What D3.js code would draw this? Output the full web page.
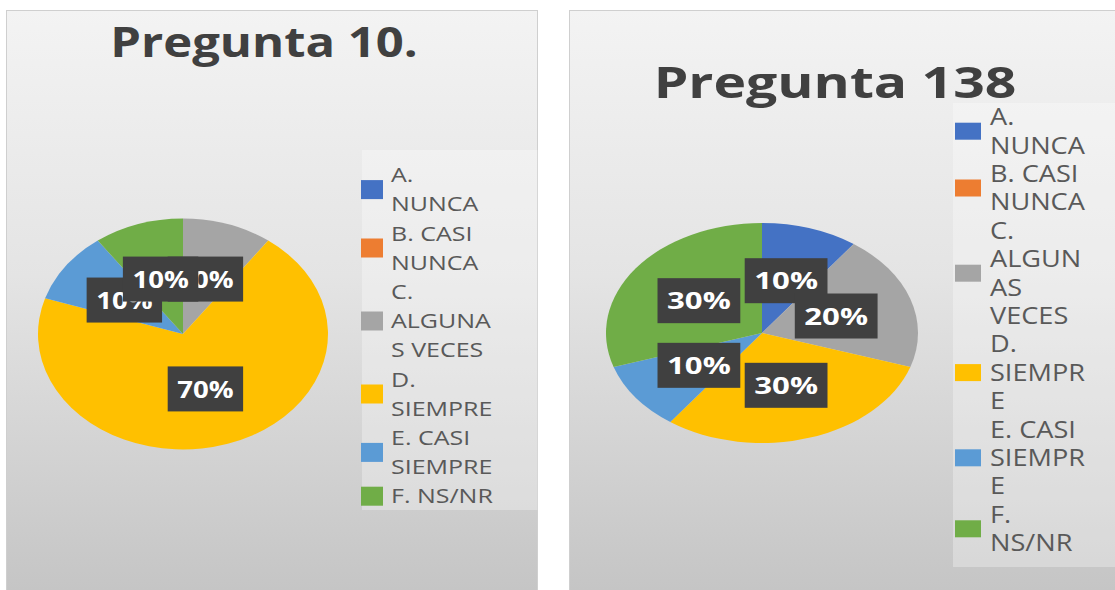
<!DOCTYPE html>
<html>
<head>
<meta charset="utf-8">
<script src="https://cdn.jsdelivr.net/npm/d3@7"></script>
<style>
  html, body { margin: 0; padding: 0; background: #ffffff; }
  svg { display: block; }
</style>
</head>
<body>
<svg id="chart" width="1115" height="590"></svg>
<script>
// ---------------- DATA ----------------
const categories = ["A. NUNCA", "B. CASI NUNCA", "C. ALGUNAS VECES", "D. SIEMPRE", "E. CASI SIEMPRE", "F. NS/NR"];
const titles = ["Pregunta 10.", "Pregunta 138"];
const values10 = [0, 0, 10, 70, 10, 10];
const values138 = [10, 0, 20, 30, 10, 30];
// legend labels as wrapped in each chart
const legendLines10 = [["A.", "NUNCA"], ["B. CASI", "NUNCA"], ["C.", "ALGUNA", "S VECES"], ["D.", "SIEMPRE"], ["E. CASI", "SIEMPRE"], ["F. NS/NR"]];
const legendLines138 = [["A.", "NUNCA"], ["B. CASI", "NUNCA"], ["C.", "ALGUN", "AS", "VECES"], ["D.", "SIEMPR", "E"], ["E. CASI", "SIEMPR", "E"], ["F.", "NS/NR"]];

// ---------------- STYLE ----------------
const palette = ["#4472C4", "#ED7D31", "#A5A5A5", "#FFC000", "#5B9BD5", "#70AD47"];
const FONT = "'Open Sans', 'Noto Sans', sans-serif";

const svg = d3.select("#chart");
const defs = svg.append("defs");
const grad = defs.append("linearGradient").attr("id", "bg").attr("x1", 0).attr("y1", 0).attr("x2", 0).attr("y2", 1);
grad.append("stop").attr("offset", "0%").attr("stop-color", "#f3f3f3");
grad.append("stop").attr("offset", "45%").attr("stop-color", "#e4e4e4");
grad.append("stop").attr("offset", "100%").attr("stop-color", "#c4c4c4");

const panels = [
  {
    values: values10, legend: legendLines10, title: titles[0],
    box: {x: 6.5, y: 10.5, w: 531, h: 590},
    title_: {x: 264, y: 57, size: 40.5, sx: 1.21},
    pie: {cx: 183, cy: 334, rx: 145, ry: 115.5},
    label: {size: 24, sx: 1.15, h: 45, pad: 9.5},
    legendBox: {x: 362, y: 150, w: 175.5, h: 360},
    legendItems: {x: 361, sw: 22, sh: 19, tx: 391, firstCenter: 175, lineH: 29.2, size: 20, sx: 1.25}
  },
  {
    values: values138, legend: legendLines138, title: titles[1],
    box: {x: 569.5, y: 10.5, w: 560, h: 590},
    title_: {x: 835, y: 98, size: 43.5, sx: 1.27},
    pie: {cx: 762, cy: 333, rx: 156, ry: 110},
    label: {size: 24, sx: 1.3, h: 45, pad: 9.5},
    legendBox: {x: 953, y: 103, w: 162, h: 464},
    legendItems: {x: 955, sw: 26, sh: 17, tx: 990, firstCenter: 117, lineH: 28.4, size: 23, sx: 1.18}
  }
];

const pct = d3.format(".0%");

panels.forEach(p => {
  const g = svg.append("g");
  // panel background
  g.append("rect")
    .attr("x", p.box.x).attr("y", p.box.y).attr("width", p.box.w).attr("height", p.box.h)
    .attr("fill", "url(#bg)").attr("stroke", "#cfcfcf").attr("stroke-width", 1);

  // title
  g.append("text")
    .attr("transform", `translate(${p.title_.x},${p.title_.y}) scale(${p.title_.sx},1)`)
    .attr("text-anchor", "middle")
    .attr("font-family", FONT).attr("font-weight", 700)
    .attr("font-size", p.title_.size).attr("fill", "#404040")
    .text(p.title);

  // legend background
  g.append("rect")
    .attr("x", p.legendBox.x).attr("y", p.legendBox.y)
    .attr("width", p.legendBox.w).attr("height", p.legendBox.h)
    .attr("fill", "#ffffff").attr("fill-opacity", 0.3);

  // pie
  const total = d3.sum(p.values);
  const pie = d3.pie().sort(null).value(d => d)(p.values);
  const arc = d3.arc().innerRadius(0).outerRadius(p.pie.ry);
  const k = p.pie.rx / p.pie.ry;
  const pg = g.append("g").attr("transform", `translate(${p.pie.cx},${p.pie.cy}) scale(${k},1)`);
  pg.selectAll("path").data(pie).join("path")
    .attr("d", arc)
    .attr("fill", (d, i) => palette[i]);

  // data labels
  const lg = g.append("g");
  pie.forEach((d, i) => {
    if (d.value === 0) return;
    const c = arc.centroid(d);
    const x = p.pie.cx + c[0] * k;
    const y = p.pie.cy + c[1];
    const item = lg.append("g");
    const bg = item.append("rect").attr("fill", "#404040");
    const t = item.append("text")
      .attr("transform", `translate(${x},${y + p.label.size * 0.36}) scale(${p.label.sx},1)`)
      .attr("text-anchor", "middle")
      .attr("font-family", FONT).attr("font-weight", 700)
      .attr("font-size", p.label.size).attr("fill", "#ffffff")
      .text(pct(d.value / total));
    const w = t.node().getComputedTextLength() * p.label.sx + 2 * p.label.pad;
    bg.attr("x", x - w / 2).attr("y", y - p.label.h / 2).attr("width", w).attr("height", p.label.h);
  });

  // legend
  const L = p.legendItems;
  let line = 0;
  p.legend.forEach((lines, i) => {
    const first = L.firstCenter + line * L.lineH;
    const last = L.firstCenter + (line + lines.length - 1) * L.lineH;
    const mid = (first + last) / 2;
    g.append("rect")
      .attr("x", L.x).attr("y", mid - L.sh / 2)
      .attr("width", L.sw).attr("height", L.sh)
      .attr("fill", palette[i]);
    lines.forEach((s, j) => {
      const cy = L.firstCenter + (line + j) * L.lineH;
      g.append("text")
        .attr("transform", `translate(${L.tx},${cy + L.size * 0.36}) scale(${L.sx},1)`)
        .attr("font-family", FONT)
        .attr("font-size", L.size).attr("fill", "#595959")
        .text(s);
    });
    line += lines.length;
  });
});
</script>
</body>
</html>
